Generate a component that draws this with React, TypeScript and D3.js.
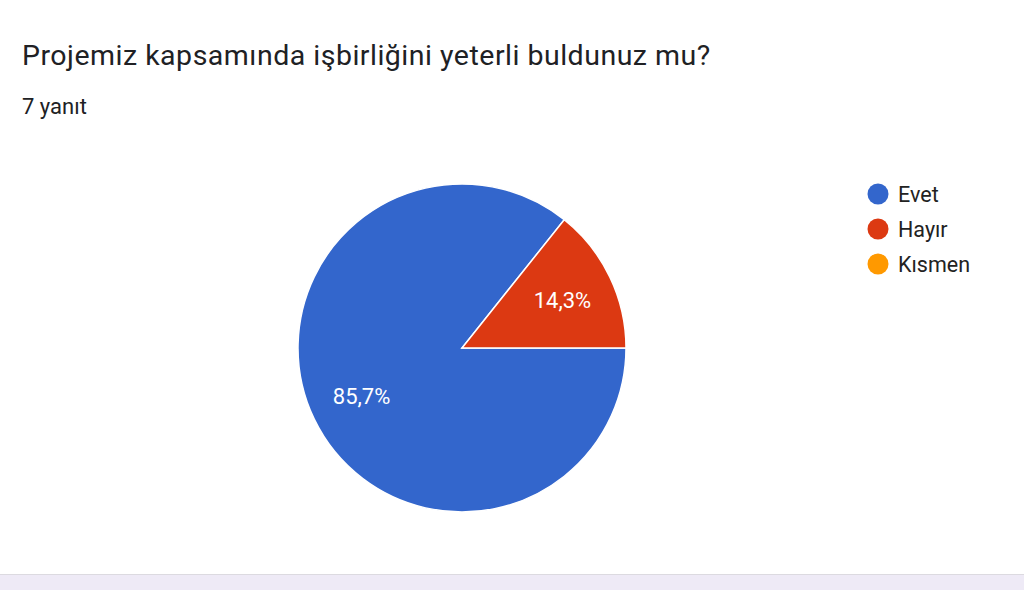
import React from 'react';
import * as d3 from 'd3';

const categories = ['Evet', 'Hayır', 'Kısmen'];
const counts = [6, 1, 0];
const colors = ['#3366CC', '#DC3912', '#FF9900'];
const title = 'Projemiz kapsamında işbirliğini yeterli buldunuz mu?';
const subtitle = '7 yanıt';

const W = 1024;
const H = 590;

export default function App() {
  const cx = 462;
  const cy = 348;
  const r = 164;

  const total = d3.sum(counts);
  const pie = d3.pie<number>()
    .sort(null)
    .startAngle(Math.PI / 2)
    .endAngle(Math.PI / 2 + 2 * Math.PI)
    .value(d => d);
  const arcs = pie(counts);
  const arc = d3.arc<d3.PieArcDatum<number>>().innerRadius(0).outerRadius(r);
  const labelArc = d3.arc<d3.PieArcDatum<number>>().innerRadius(r * 0.68).outerRadius(r * 0.68);
  const fmt = (v: number) => (v / total * 100).toFixed(1).replace('.', ',') + '%';

  const legendY = d3.scalePoint<string>().domain(categories).range([194, 264]);

  return (
    <>
      <style>{`body{margin:0;background:#fff}`}</style>
      <svg width={W} height={H} style={{ display: 'block', fontFamily: 'Roboto, sans-serif' }}>
        <rect width={W} height={H} fill="#fff" />
        <text x={22} y={65} fontSize={28.5} letterSpacing={0.5} fill="#202124">{title}</text>
        <text x={22} y={114} fontSize={22} fill="#202124">{subtitle}</text>

        <g transform={`translate(${cx},${cy})`}>
          {arcs.filter(a => a.value > 0).map((a, i) => (
            <path key={i} d={arc(a) || ''} fill={colors[a.index]} stroke="#fff" strokeWidth={1.5} />
          ))}
          {arcs.filter(a => a.value > 0).map((a, i) => {
            const [x, y] = labelArc.centroid(a);
            return (
              <text key={i} x={x} y={y} dy="0.36em" textAnchor="middle" fontSize={22} fill="#fff">
                {fmt(a.value)}
              </text>
            );
          })}
        </g>

        {categories.map((c, i) => (
          <g key={c} transform={`translate(0,${legendY(c)})`}>
            <circle cx={878} cy={0} r={10.5} fill={colors[i]} />
            <text x={898} y={0} dy="0.36em" fontSize={21.5} fill="#222">{c}</text>
          </g>
        ))}

        <rect x={0} y={574} width={W} height={16} fill="#EEEAF6" />
        <line x1={0} x2={W} y1={574.5} y2={574.5} stroke="#DCDAE0" strokeWidth={1} />
      </svg>
    </>
  );
}
